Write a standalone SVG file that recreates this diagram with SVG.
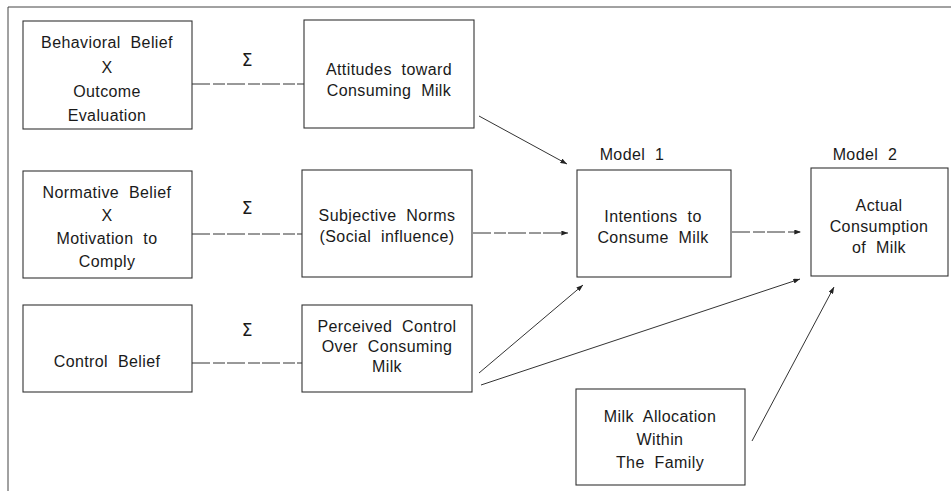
<svg xmlns="http://www.w3.org/2000/svg" width="951" height="491" viewBox="0 0 951 491">
<defs>
<marker id="ah" viewBox="0 0 8 6" refX="8" refY="3" markerWidth="7" markerHeight="5" markerUnits="userSpaceOnUse" orient="auto">
<path d="M0,0 L8,3 L0,6 Z" fill="#222"/>
</marker>
<style>
.box{fill:#fff;stroke:#333;stroke-width:1.1}
.t{font-family:"Liberation Sans",Arial,sans-serif;font-size:16px;fill:#1a1a1a;text-anchor:middle;word-spacing:5px;letter-spacing:0.4px}
.s{font-family:"DejaVu Sans","Liberation Sans",sans-serif;font-size:17px;fill:#1a1a1a;text-anchor:middle}
.c{fill:none;stroke:#333;stroke-width:1}
.d{stroke-dasharray:18 3 12 2}
.frame{fill:none;stroke:#444;stroke-width:1}
</style>
</defs>
<rect width="951" height="491" fill="#fff"/>
<path class="frame" d="M8,491 L8,7 L951,7"/>

<g id="connectors">
<line class="c d" x1="192" y1="84" x2="304" y2="84"/>
<line class="c d" x1="192" y1="234" x2="302" y2="234"/>
<line class="c d" x1="192" y1="363" x2="302" y2="363"/>
<line class="c" x1="479" y1="116" x2="567" y2="164" marker-end="url(#ah)"/>
<line class="c d" x1="473" y1="233" x2="568" y2="233" marker-end="url(#ah)"/>
<line class="c" x1="479" y1="373" x2="583" y2="285" marker-end="url(#ah)"/>
<line class="c" x1="481" y1="385" x2="800" y2="279" marker-end="url(#ah)"/>
<line class="c d" x1="732" y1="232" x2="801" y2="232" marker-end="url(#ah)"/>
<line class="c" x1="752" y1="441" x2="834" y2="287" marker-end="url(#ah)"/>
</g>

<g id="sigmas">
<text class="s" x="247" y="66">Σ</text>
<text class="s" x="247" y="214">Σ</text>
<text class="s" x="247" y="336">Σ</text>
</g>

<g id="behavioral-belief">
<rect class="box" x="23" y="21" width="169" height="108"/>
<text class="t" x="107" y="48">Behavioral Belief</text>
<text class="t" x="107" y="73">X</text>
<text class="t" x="107" y="97">Outcome</text>
<text class="t" x="107" y="121">Evaluation</text>
</g>

<g id="attitudes">
<rect class="box" x="304" y="20" width="170" height="108"/>
<text class="t" x="389" y="75">Attitudes toward</text>
<text class="t" x="389" y="96">Consuming Milk</text>
</g>

<g id="normative-belief">
<rect class="box" x="23" y="171" width="169" height="107"/>
<text class="t" x="107" y="198">Normative Belief</text>
<text class="t" x="107" y="221">X</text>
<text class="t" x="107" y="244">Motivation to</text>
<text class="t" x="107" y="267">Comply</text>
</g>

<g id="subjective-norms">
<rect class="box" x="302" y="170" width="170" height="107"/>
<text class="t" x="387" y="221">Subjective Norms</text>
<text class="t" x="387" y="242">(Social influence)</text>
</g>

<g id="control-belief">
<rect class="box" x="23" y="305" width="169" height="87"/>
<text class="t" x="107" y="367">Control Belief</text>
</g>

<g id="perceived-control">
<rect class="box" x="302" y="305" width="170" height="87"/>
<text class="t" x="387" y="332">Perceived Control</text>
<text class="t" x="387" y="352">Over Consuming</text>
<text class="t" x="387" y="372">Milk</text>
</g>

<g id="intentions">
<text class="t" x="632" y="160">Model 1</text>
<rect class="box" x="577" y="170" width="154" height="107"/>
<text class="t" x="653" y="222">Intentions to</text>
<text class="t" x="653" y="243">Consume Milk</text>
</g>

<g id="actual-consumption">
<text class="t" x="865" y="160">Model 2</text>
<rect class="box" x="811" y="168" width="137" height="108"/>
<text class="t" x="879" y="211">Actual</text>
<text class="t" x="879" y="232">Consumption</text>
<text class="t" x="879" y="253">of Milk</text>
</g>

<g id="milk-allocation">
<rect class="box" x="576" y="389" width="169" height="96"/>
<text class="t" x="660" y="422">Milk Allocation</text>
<text class="t" x="660" y="445">Within</text>
<text class="t" x="660" y="468">The Family</text>
</g>
</svg>
